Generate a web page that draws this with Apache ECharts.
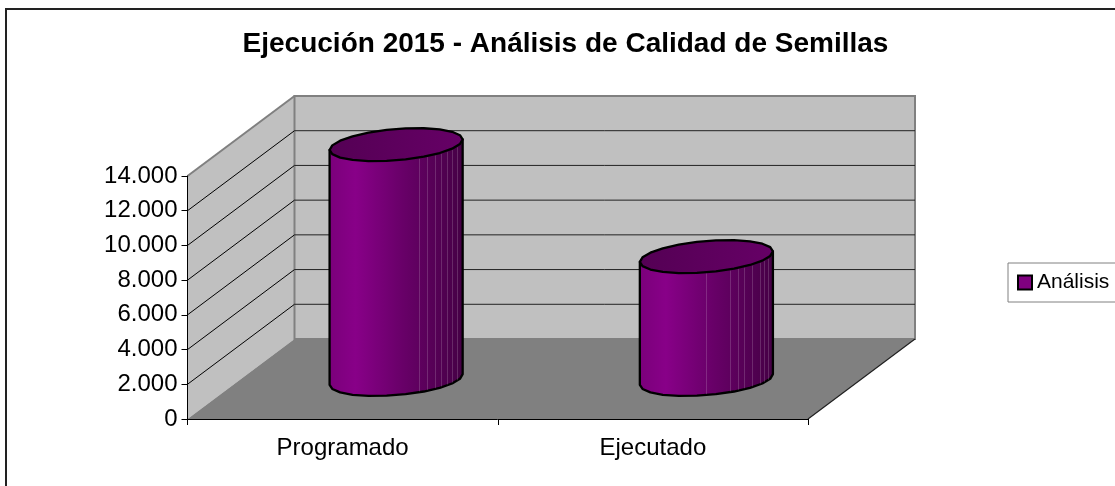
<!DOCTYPE html>
<html>
<head>
<meta charset="utf-8">
<style>html,body{margin:0;padding:0;background:#fff;overflow:hidden}#c{width:1115px;height:486px}</style>
<script src="https://cdn.jsdelivr.net/npm/echarts@6/dist/echarts.min.js"></script>
</head>
<body>
<div id="c"></div>
<script>
var titleText = 'Ejecución 2015 - Análisis de Calidad de Semillas';
var seriesName = 'Análisis';
var categories = ['Programado', 'Ejecutado'];
var values = [13500, 7050];
var yTicks = [0, 2000, 4000, 6000, 8000, 10000, 12000, 14000];

var FONT = '"Liberation Sans", Arial, sans-serif';
var DEPTH_X = 107, DEPTH_Y = 80;
var RX = 63, EX = 21.4, EY = 16.5, STEPS = 22;
var FACETS = [
  [0.34, 0.46, 0.58, 0.67, 0.76, 0.84, 0.91],
  [0, 0.35, 0.47, 0.57, 0.68, 0.8, 0.86, 0.92]
];
var TH0 = Math.atan2(EX, RX);

function fmt(v) { return String(v).replace(/\B(?=(\d{3})+$)/g, '.'); }
function pt(c, th) {
  return [c[0] + RX * Math.cos(th) + EX * Math.sin(th), c[1] - EY * Math.sin(th)];
}
function poly(points, style, z2) {
  return { type: 'polygon', shape: { points: points }, style: style, z2: z2 || 0 };
}
function line(a, b, stroke, w, z2) {
  return { type: 'line', shape: { x1: a[0], y1: a[1], x2: b[0], y2: b[1] },
    style: { stroke: stroke, lineWidth: w, fill: null }, z2: z2 || 0 };
}
function back(p) { return [p[0] + DEPTH_X, p[1] - DEPTH_Y]; }

function renderWalls(params, api) {
  var n = categories.length;
  var zL = api.coord([0, 0]), w = api.size([1, 0])[0];
  var x0 = zL[0] - w / 2, x1 = x0 + w * n;
  var y0 = zL[1], yT = api.coord([0, yTicks[yTicks.length - 1]])[1];
  var fl = [x0, y0], fr = [x1, y0], tl = [x0, yT];
  var kids = [
    poly([fl, tl, back(tl), back(fl)], { fill: '#C0C0C0' }),
    poly([back(fl), back(tl), back([x1, yT]), back(fr)], { fill: '#C0C0C0', stroke: '#808080', lineWidth: 2 }),
    poly([fl, fr, back(fr), back(fl)], { fill: '#808080' }, 1),
    line(tl, back(tl), '#808080', 2, 2),
    line(fr, back(fr), '#202020', 1.2, 2)
  ];
  yTicks.slice(1, -1).forEach(function (t) {
    var y = api.coord([0, t])[1];
    kids.push(line([x0, y], back([x0, y]), '#000', 1, 2));
    kids.push(line(back([x0, y]), back([x1, y]), '#222', 1, 2));
  });
  return { type: 'group', children: kids };
}

function renderCyl(params, api) {
  var idx = api.value(0);
  var b0 = api.coord([idx, 0]);
  var bc = [b0[0] + DEPTH_X / 2, b0[1] - DEPTH_Y / 2 + 0.5];
  var tc = [bc[0], api.coord([idx, api.value(1)])[1] - DEPTH_Y / 2];
  var i, topRing = [], front = [];
  for (i = 0; i < STEPS; i++) topRing.push(pt(tc, TH0 + i / STEPS * 2 * Math.PI));
  var half = STEPS / 2;
  for (i = 0; i <= half; i++) front.push(pt(bc, TH0 - i / half * Math.PI));
  var body = [pt(tc, TH0)].concat(front, [pt(tc, TH0 - Math.PI)]);
  var bodyFill = new echarts.graphic.LinearGradient(0, 0, 1, 0, [
    { offset: 0, color: '#7a007a' }, { offset: 0.2, color: '#880088' },
    { offset: 0.55, color: '#680068' }, { offset: 1, color: '#450045' }
  ]);
  var topFill = new echarts.graphic.LinearGradient(0, 0, 1, 0, [
    { offset: 0, color: '#540054' }, { offset: 1, color: '#660066' }
  ]);
  var kids = [poly(body, { fill: bodyFill, stroke: '#000', lineWidth: 2.3, lineJoin: 'round' }, 1)];
  FACETS[idx].forEach(function (f) {
    var a = TH0 - Math.acos(f);
    var topY = pt(tc, a)[1] + 1, botY = pt(bc, a)[1] - 1, x = Math.round(pt(tc, a)[0]) + 0.5;
    kids.push(line([x, topY], [x, botY], 'rgba(255,255,255,0.16)', 1, 2));
  });
  kids.push(poly(topRing, { fill: topFill, stroke: '#000', lineWidth: 2.3, lineJoin: 'round' }, 3));
  return { type: 'group', children: kids };
}

var chart = echarts.init(document.getElementById('c'), null, { renderer: 'canvas' });
chart.setOption({
  animation: false,
  backgroundColor: '#fff',
  title: {
    text: titleText, left: 565.5, top: 30, textAlign: 'center',
    padding: 0,
    textStyle: { fontFamily: FONT, fontWeight: 'bold', fontSize: 28, color: '#000' }
  },
  legend: {
    data: [{ name: seriesName, icon: 'rect' }],
    left: 1008, top: 263, orient: 'horizontal',
    padding: [9, 40, 9, 9],
    itemWidth: 14, itemHeight: 14, itemGap: 0,
    backgroundColor: '#fff', borderColor: '#808080', borderWidth: 1, borderRadius: 0,
    itemStyle: { color: '#800080', borderColor: '#000', borderWidth: 2 },
    textStyle: { fontFamily: FONT, fontSize: 21, color: '#000' },
    selectedMode: false
  },
  graphic: [{ type: 'rect', shape: { x: 6, y: 9, width: 1300, height: 700 },
    style: { fill: null, stroke: '#222', lineWidth: 2 }, silent: true, z: 100 }],
  grid: { left: 187.5, top: 176, width: 620.5, height: 243, containLabel: false },
  xAxis: {
    type: 'category', data: categories, z: 5,
    axisLine: { lineStyle: { color: '#000', width: 1 } },
    axisTick: { show: true, length: 6, alignWithLabel: false, lineStyle: { color: '#000' } },
    axisLabel: { fontFamily: FONT, fontSize: 24, color: '#000', margin: 17 }
  },
  yAxis: {
    type: 'value', min: 0, max: 14000, interval: 2000, z: 5,
    axisLine: { show: true, lineStyle: { color: '#000', width: 1 } },
    axisTick: { show: true, length: 6, lineStyle: { color: '#000' } },
    splitLine: { show: false },
    axisLabel: { fontFamily: FONT, fontSize: 24, color: '#000', margin: 10, formatter: fmt }
  },
  series: [
    { type: 'custom', silent: true, z: 1, renderItem: renderWalls, data: [[0, 0]], encode: { x: 0, y: 1 } },
    { type: 'custom', name: seriesName, silent: true, z: 2, renderItem: renderCyl,
      itemStyle: { color: '#800080' },
      data: values.map(function (v, i) { return [i, v]; }), encode: { x: 0, y: 1 } }
  ]
});
</script>
</body>
</html>
